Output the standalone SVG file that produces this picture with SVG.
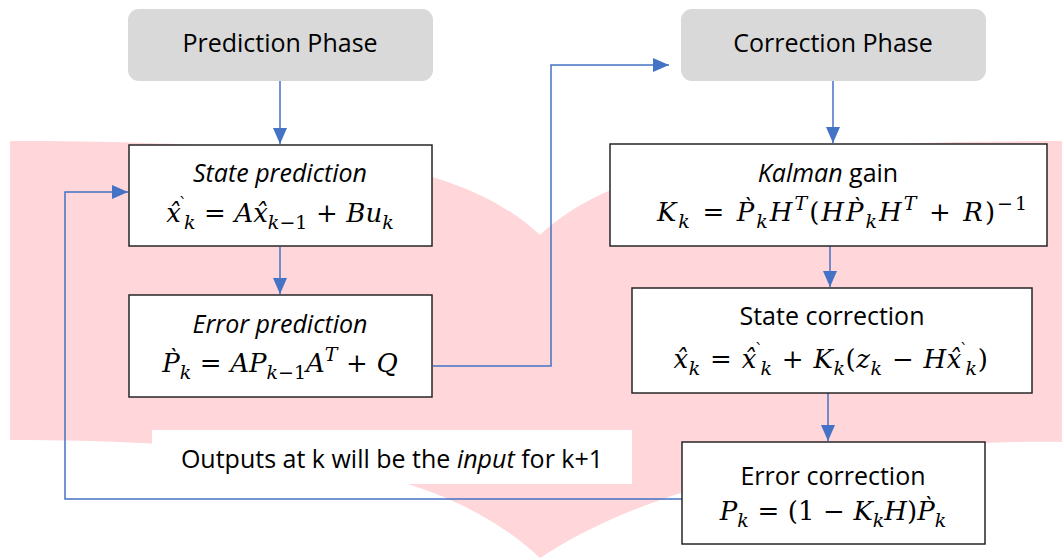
<svg xmlns="http://www.w3.org/2000/svg" width="1062" height="559" viewBox="0 0 1062 559">
<style>
.bg{fill:#FFD6DA}
.phase{fill:#D9D9D9}
.box{fill:#FFFFFF;stroke:#262626;stroke-width:1.5}
.t{font-family:"Open Sans","Liberation Sans",sans-serif;font-size:25px;fill:#000;text-anchor:middle}
.it{font-style:italic}
.m{font-family:"DejaVu Serif","Liberation Serif",serif;font-size:26px;fill:#000;text-anchor:middle}
.i{font-style:italic}
.s{font-size:19px}
.g{font-size:16px;font-style:normal}
.c{fill:none;stroke:#4472C4;stroke-width:1.5}
</style>
<defs>
<marker id="ah" markerUnits="userSpaceOnUse" markerWidth="16" markerHeight="14" viewBox="0 0 16 14" refX="16" refY="7" orient="auto">
<path d="M0,0 L16,7 L0,14 Z" fill="#4472C4"/>
</marker>
</defs>
<path class="bg" d="M10,141 C350,141 470,170 540,235 C610,170 730,141 1062,141 L1062,442 C960,440 700,452 540,558 C470,493 350,440 10,440 Z"/>
<g id="connectors">
<path class="c" d="M280,81 V144" marker-end="url(#ah)"/>
<path class="c" d="M280,247 V294" marker-end="url(#ah)"/>
<path class="c" d="M433,366 H551 V65 H669" marker-end="url(#ah)"/>
<path class="c" d="M833,81 V143" marker-end="url(#ah)"/>
<path class="c" d="M830,246 V287" marker-end="url(#ah)"/>
<path class="c" d="M828,393 V441" marker-end="url(#ah)"/>
<path class="c" d="M682,499 H65 V192 H128" marker-end="url(#ah)"/>
</g>
<g id="prediction-phase">
<rect class="phase" x="128" y="9" width="305" height="72" rx="11"/>
<text class="t" x="280" y="52">Prediction Phase</text>
</g>
<g id="correction-phase">
<rect class="phase" x="681" y="9" width="305" height="72" rx="11"/>
<text class="t" x="833" y="52">Correction Phase</text>
</g>
<g id="state-prediction">
<rect class="box" x="129" y="145" width="303" height="101"/>
<text class="t it" x="280" y="182">State prediction</text>
<text class="m" x="280" y="222"><tspan class="i">x̂</tspan><tspan class="g" dx="-2" dy="-13">`</tspan><tspan class="i s" dx="-3" dy="20">k</tspan><tspan dy="-7">&#x2004;=&#x2004;</tspan><tspan class="i">Ax̂</tspan><tspan class="s" dy="7"><tspan class="i">k</tspan>−1</tspan><tspan dy="-7">&#x2004;+&#x2004;</tspan><tspan class="i">Bu</tspan><tspan class="i s" dy="7">k</tspan></text>
</g>
<g id="error-prediction">
<rect class="box" x="129" y="295" width="303" height="102"/>
<text class="t it" x="280" y="333">Error prediction</text>
<text class="m" x="280" y="372"><tspan class="i">P̀</tspan><tspan class="i s" dy="7">k</tspan><tspan dy="-7">&#x2004;=&#x2004;</tspan><tspan class="i">AP</tspan><tspan class="s" dy="7"><tspan class="i">k</tspan>−1</tspan><tspan class="i" dy="-7">A</tspan><tspan class="i s" dy="-11">T</tspan><tspan dy="11">&#x2004;+&#x2004;</tspan><tspan class="i">Q</tspan></text>
</g>
<g id="kalman-gain">
<rect class="box" x="610" y="144" width="437" height="102"/>
<text class="t" x="828" y="182"><tspan class="it">Kalman</tspan> gain</text>
<text class="m" x="843" y="221" letter-spacing="2"><tspan class="i">K</tspan><tspan class="i s" dy="7">k</tspan><tspan dy="-7">&#x2004;=&#x2004;</tspan><tspan class="i">P̀</tspan><tspan class="i s" dy="7">k</tspan><tspan class="i" dy="-7">H</tspan><tspan class="i s" dy="-11">T</tspan><tspan dy="11">(</tspan><tspan class="i">HP̀</tspan><tspan class="i s" dy="7">k</tspan><tspan class="i" dy="-7">H</tspan><tspan class="i s" dy="-11">T</tspan><tspan dy="11">&#x2004;+&#x2004;</tspan><tspan class="i">R</tspan><tspan>)</tspan><tspan class="s" dy="-11">−1</tspan></text>
</g>
<g id="state-correction">
<rect class="box" x="632" y="288" width="400" height="105"/>
<text class="t" x="832" y="325">State correction</text>
<text class="m" x="831" y="368" letter-spacing="0.6"><tspan class="i">x̂</tspan><tspan class="i s" dy="7">k</tspan><tspan dy="-7">&#x2004;=&#x2004;</tspan><tspan class="i">x̂</tspan><tspan class="g" dx="-2" dy="-13">`</tspan><tspan class="i s" dx="-3" dy="20">k</tspan><tspan dy="-7">&#x2004;+&#x2004;</tspan><tspan class="i">K</tspan><tspan class="i s" dy="7">k</tspan><tspan dy="-7">(</tspan><tspan class="i">z</tspan><tspan class="i s" dy="7">k</tspan><tspan dy="-7">&#x2004;−&#x2004;</tspan><tspan class="i">Hx̂</tspan><tspan class="g" dx="-2" dy="-13">`</tspan><tspan class="i s" dx="-3" dy="20">k</tspan><tspan dy="-7">)</tspan></text>
</g>
<g id="error-correction">
<rect class="box" x="682" y="442" width="303" height="102"/>
<text class="t" x="833" y="485">Error correction</text>
<text class="m" x="833" y="520"><tspan class="i">P</tspan><tspan class="i s" dy="7">k</tspan><tspan dy="-7">&#x2004;=&#x2004;(1&#x2004;−&#x2004;</tspan><tspan class="i">K</tspan><tspan class="i s" dy="7">k</tspan><tspan class="i" dy="-7">H</tspan><tspan>)</tspan><tspan class="i">P̀</tspan><tspan class="i s" dy="7">k</tspan></text>
</g>
<g id="feedback-label">
<rect x="152" y="430" width="480" height="54" fill="#FFFFFF"/>
<text class="t" x="392" y="468">Outputs at k will be the <tspan class="it">input</tspan> for k+1</text>
</g>
</svg>
